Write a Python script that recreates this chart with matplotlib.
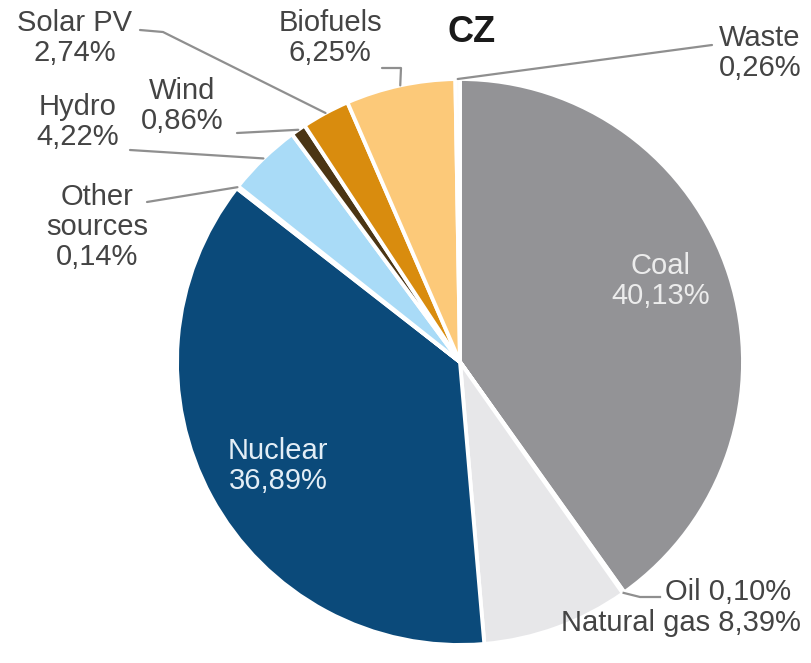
import matplotlib
matplotlib.use("Agg")
import matplotlib.pyplot as plt
import numpy as np

# ---- data ----
categories = ["Coal", "Oil", "Natural gas", "Nuclear", "Other sources",
              "Hydro", "Wind", "Solar PV", "Biofuels", "Waste"]
shares = [40.13, 0.10, 8.39, 36.89, 0.14, 4.22, 0.86, 2.74, 6.25, 0.26]
share_labels = ["40,13%", "0,10%", "8,39%", "36,89%", "0,14%",
                "4,22%", "0,86%", "2,74%", "6,25%", "0,26%"]
title = "CZ"

# ---- styling ----
colors = ["#939396", "#f4f4f4", "#e7e7e9", "#0b4a7a", "#f3f9fd",
          "#a9dbf7", "#4b3514", "#d98c0e", "#fcc979", "#fbfbfb"]
plt.rcParams["font.family"] = ["Liberation Sans", "DejaVu Sans"]
TXT = "#444444"
LINE = "#8f8f8f"
FS = 21

W, H = 812, 663
fig = plt.figure(figsize=(8.12, 6.63), dpi=100)
ax = fig.add_axes([0, 0, 1, 1])
cx, cy, R = 460, H - 362, 283
wedges, _ = ax.pie(shares, colors=colors, startangle=90, counterclock=False,
                   center=(cx, cy), radius=R,
                   wedgeprops=dict(edgecolor="white", linewidth=2.8))
ax.set_xlim(0, W)
ax.set_ylim(0, H)
ax.set_aspect("equal")
ax.axis("off")


def anchor(i, frac=1.0):
    w = wedges[i]
    t = np.deg2rad((w.theta1 + w.theta2) / 2)
    return cx + frac * R * np.cos(t), cy + frac * R * np.sin(t)


def px(x, y):
    return x, H - y


idx = {c: i for i, c in enumerate(categories)}

# outside labels: (category, text centre in px, leader points in px before the wedge anchor)
outside = [
    ("Solar PV", (75, 38), [(140, 30), (163, 32)]),
    ("Biofuels", (330, 38), [(382, 68), (401, 68)]),
    ("Waste", (760, 53), [(712, 45)]),
    ("Wind", (182, 106), [(237, 133)]),
    ("Hydro", (78, 122), [(130, 150)]),
    ("Other sources", (97, 227), [(147, 202)]),
]
for cat, (tx, ty), pts in outside:
    i = idx[cat]
    name = "Other\nsources" if cat == "Other sources" else cat
    ax.text(*px(tx, ty), f"{name}\n{share_labels[i]}", ha="center", va="center",
            fontsize=FS, color=TXT, linespacing=1.1)
    ax_pts = [px(x, y) for x, y in pts] + [anchor(i)]
    xs, ys = zip(*ax_pts)
    ax.plot(xs, ys, color=LINE, lw=1.6, solid_capstyle="round")

# Oil
i = idx["Oil"]
ax.text(*px(728, 592), f"Oil {share_labels[i]}", ha="center", va="center",
        fontsize=FS, color=TXT)
a = anchor(i)
xs, ys = zip(*([a] + [px(640, 597), px(660, 597)]))
ax.plot(xs, ys, color=LINE, lw=1.6)

# Natural gas
i = idx["Natural gas"]
ax.text(*px(681, 623), f"Natural gas {share_labels[i]}", ha="center", va="center",
        fontsize=FS, color=TXT)

# inner labels
i = idx["Coal"]
ax.text(*px(661, 281), f"Coal\n{share_labels[i]}", ha="center", va="center",
        fontsize=FS, color="#ececec", linespacing=1.1)
i = idx["Nuclear"]
ax.text(*px(278, 466), f"Nuclear\n{share_labels[i]}", ha="center", va="center",
        fontsize=FS, color="#e4eef6", linespacing=1.1)

ax.text(*px(472, 33), title, ha="center", va="center", fontsize=26,
        fontweight="bold", color="#1a1a1a")

fig.savefig("out.png", dpi=100)
